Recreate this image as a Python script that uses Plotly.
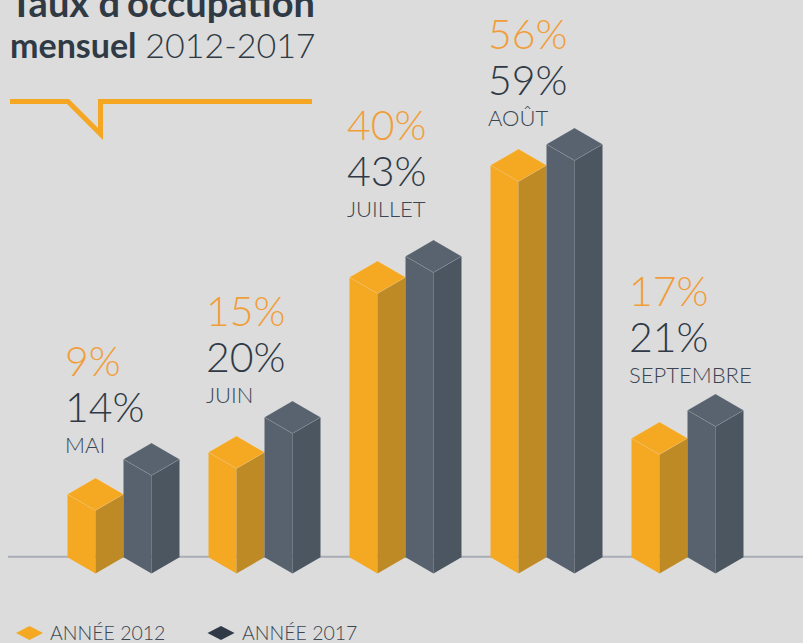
import plotly.graph_objects as go

# ---------------- data ----------------
months = ["MAI", "JUIN", "JUILLET", "AOÛT", "SEPTEMBRE"]
rate_2012 = [9, 15, 40, 56, 17]
rate_2017 = [14, 20, 43, 59, 21]
series_names = ["ANNÉE 2012", "ANNÉE 2017"]
title_line1 = "Taux d'occupation"
title_line2_bold = "mensuel"
title_line2_light = "2012-2017"

# ---------------- layout constants ----------------
W, H = 803, 643
BG = "#DCDCDC"
PX_PER_PCT = 7.0          # vertical pixels per percentage point
ZERO_PX = 573.5           # pixel row of the 0 % front-bottom vertex
GROUP0 = 95.5             # x of first bar front edge
GROUP_STEP = 141          # distance between month groups
HALF_W = 28               # half width of each prism
D_PX = 16.2               # isometric vertical offset
label_shift = [9, 1, -24, -3, -12]   # px shift of month label block vs. tallest bar top

FACE = {
    0: dict(left="#F5A822", right="#BE8A26", top="#F5A822"),
    1: dict(left="#57626E", right="#4B5661", top="#58636F"),
}
PCT_COLORS = ["#F19E3A", "#2F3A46"]
LABEL_COLOR = "#3B4652"
TITLE_COLOR = "#2F3A45"
FONT = "Lato"


def pct(p):
    """pixel row -> percent units on the y axis"""
    return (ZERO_PX - p) / PX_PER_PCT


D = D_PX / PX_PER_PCT

fig = go.Figure()

series = [rate_2012, rate_2017]
for i, m in enumerate(months):
    for s, vals in enumerate(series):
        v = vals[i]
        c = GROUP0 + GROUP_STEP * i + s * 2 * HALF_W
        l, r = c - HALF_W, c + HALF_W
        faces = [
            ("left", [l, c, c, l, l], [D, 0, v, v + D, D]),
            ("right", [c, r, r, c, c], [0, D, v + D, v, 0]),
            ("top", [l, c, r, c, l], [v + D, v, v + D, v + 2 * D, v + D]),
        ]
        for name, xs, ys in faces:
            fig.add_trace(go.Scatter(
                x=xs, y=ys, mode="lines", fill="toself",
                fillcolor=FACE[s][name],
                line=dict(width=0.8 if name == "top" else 0,
                          color="rgba(255,255,255,0.18)" if name == "top" else FACE[s][name]),
                hoverinfo="skip", showlegend=False,
            ))

annotations = []
for i, m in enumerate(months):
    x_left = GROUP0 + GROUP_STEP * i - HALF_W - 5
    top_px = ZERO_PX - max(rate_2012[i], rate_2017[i]) * PX_PER_PCT - 2 * D_PX
    base_month = top_px + label_shift[i]
    base_2017 = base_month - 31
    base_2012 = base_2017 - 46
    items = [
        (f"{rate_2012[i]}%", base_2012, 41, PCT_COLORS[0], 300),
        (f"{rate_2017[i]}%", base_2017, 41, PCT_COLORS[1], 300),
        (m, base_month, 22, LABEL_COLOR, 300),
    ]
    for txt, base, size, col, wt in items:
        annotations.append(dict(
            x=x_left, y=pct(base - 0.36 * size), xref="x", yref="y",
            xanchor="left", yanchor="middle", showarrow=False, text=txt,
            font=dict(family=FONT, size=size, color=col, weight=wt),
        ))

# title
annotations.append(dict(
    x=8 / W, y=1 - (15 - 13.5) / H, xref="paper", yref="paper",
    xanchor="left", yanchor="middle", showarrow=False,
    text=f"<b>{title_line1}</b>",
    font=dict(family=FONT, size=38, color=TITLE_COLOR),
))
annotations.append(dict(
    x=8 / W, y=1 - (57 - 12) / H, xref="paper", yref="paper",
    xanchor="left", yanchor="middle", showarrow=False,
    text=f"<b>{title_line2_bold}</b> <span style='font-weight:300'>{title_line2_light}</span>",
    font=dict(family=FONT, size=34, color=TITLE_COLOR),
))

# legend texts
legend_x = [(29.5, 48), (221, 240)]
for s, name in enumerate(series_names):
    annotations.append(dict(
        x=legend_x[s][1] / W, y=1 - (639.5 - 7) / H, xref="paper", yref="paper",
        xanchor="left", yanchor="middle", showarrow=False, text=name,
        font=dict(family=FONT, size=19.5, color=LABEL_COLOR, weight=300),
    ))


def P(xp, yp):
    return f"{xp / W:.5f},{1 - yp / H:.5f}"


shapes = []
# baseline
shapes.append(dict(type="line", xref="x", yref="y", x0=8, x1=W, y0=pct(556.8), y1=pct(556.8),
                   line=dict(color="#A9AEB6", width=2), layer="below"))
# orange callout rule under the title
shapes.append(dict(
    type="path", xref="paper", yref="paper",
    path=f"M {P(10, 101.5)} L {P(68, 101.5)} L {P(100.5, 134)} L {P(100.5, 101.5)} L {P(312, 101.5)}",
    line=dict(color="#F5A623", width=5),
))
# legend diamonds
for s in range(2):
    cx, cy = legend_x[s][0], 633
    shapes.append(dict(
        type="path", xref="paper", yref="paper",
        path=f"M {P(cx - 13.5, cy)} L {P(cx, cy - 7)} L {P(cx + 13.5, cy)} L {P(cx, cy + 7)} Z",
        fillcolor=FACE[s]["left"] if s == 0 else "#2F3A46", line=dict(width=0),
    ))

fig.update_layout(
    width=W, height=H,
    margin=dict(l=0, r=0, t=0, b=0),
    paper_bgcolor=BG, plot_bgcolor=BG,
    xaxis=dict(range=[0, W], visible=False, fixedrange=True),
    yaxis=dict(range=[pct(H), pct(0)], visible=False, fixedrange=True),
    annotations=annotations, shapes=shapes,
    showlegend=False,
)

fig.write_html(
    "out.html",
    config={"displayModeBar": False},
    post_script="document.body.style.margin='0';document.body.style.overflow='hidden';"
                "document.body.style.background='" + BG + "';",
)
